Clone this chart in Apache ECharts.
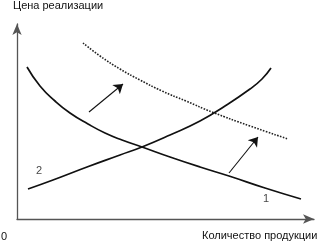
<!DOCTYPE html>
<html>
<head>
<meta charset="utf-8">
<script src="https://cdn.jsdelivr.net/npm/echarts@6/dist/echarts.min.js"></script>
<style>html,body{margin:0;padding:0;background:#fff}#c{width:324px;height:242px}</style>
</head>
<body>
<div id="c"></div>
<script>
// Curve points in chart units (x: quantity, y: price)
var demandCurve = [[10,152],[23,133],[38,118],[53,106],[71,95],[88,86],[105,79],[125,72],[153,62],[183,52],[212,43],[248,31],[284,20]];
var supplyCurve = [[11,30],[36,39],[70,52],[103,64],[125,72],[153,84],[183,98],[208,113],[233,130],[245,140],[254,151]];
var shiftedDemand = [[66,176],[83,163],[103,150],[123,139],[145,128],[169,118],[195,107],[233,93],[271,80]];
var shiftArrows = [[[72,107],[106,135]],[[212,46],[241,82]]];
var curveLabels = [{name:'1', value:[249,20]},{name:'2', value:[22,48]}];
var yTitle = 'Цена реализации';
var xTitle = 'Количество продукции';
var originLabel = '0';

var FONT = 'Liberation Sans, Arial, sans-serif';
var chart = echarts.init(document.getElementById('c'), null, {renderer:'canvas'});
var axisCommon = {
  type:'value', min:0,
  axisLine:{show:true, lineStyle:{color:'#555', width:1.3}, symbol:['none','arrow'], symbolSize:[7,11]},
  axisTick:{show:false}, axisLabel:{show:false}, splitLine:{show:false}
};
var ts = {fontSize:11, fontWeight:'normal', color:'#111', fontFamily:FONT};
chart.setOption({
  animation:false,
  backgroundColor:'#fff',
  title:[
    {text:yTitle, left:13, top:0, padding:0, textStyle:ts},
    {text:xTitle, left:202, top:230, padding:0, textStyle:ts},
    {text:originLabel, left:1, top:231, padding:0, textStyle:ts}
  ],
  grid:{left:17, right:10, top:24, bottom:23},
  xAxis:Object.assign({}, axisCommon, {max:297}),
  yAxis:Object.assign({}, axisCommon, {max:195}),
  series:[
    {type:'line', data:demandCurve, smooth:0.5, symbol:'none', lineStyle:{color:'#111', width:1.7}},
    {type:'line', data:supplyCurve, smooth:0.5, symbol:'none', lineStyle:{color:'#111', width:1.7}},
    {type:'line', data:shiftedDemand, smooth:0.5, symbol:'none', lineStyle:{color:'#222', width:1.6, type:[1.6,1.4]}},
    {type:'lines', coordinateSystem:'cartesian2d', data:shiftArrows.map(function(a){return {coords:a};}),
      symbol:['none','arrow'], symbolSize:9, lineStyle:{color:'#111', width:1.1, opacity:1}},
    {type:'scatter', data:curveLabels, symbolSize:0,
      label:{show:true, position:'inside', formatter:'{b}', fontSize:11, color:'#111', fontFamily:FONT}}
  ]
});
</script>
</body>
</html>
